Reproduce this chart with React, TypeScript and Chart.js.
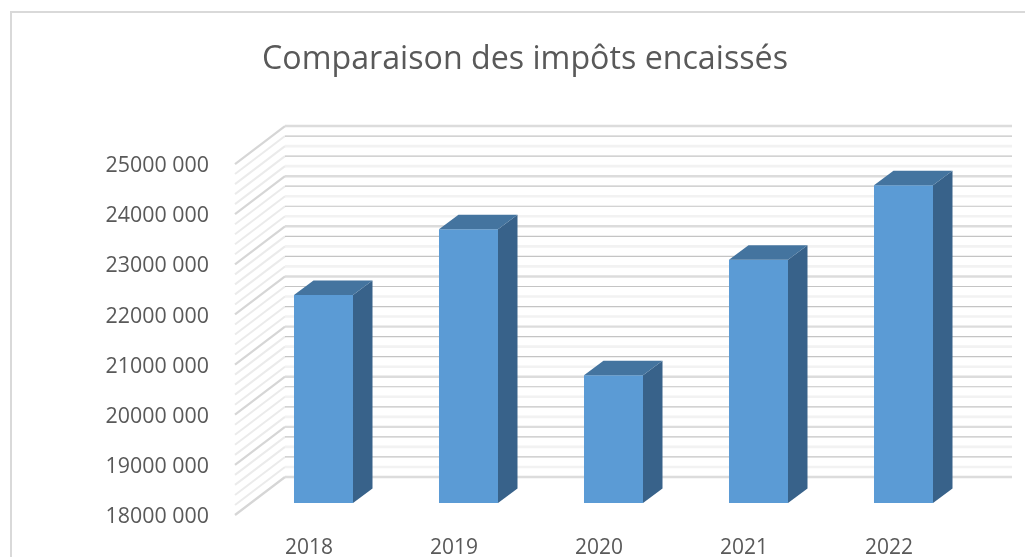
import React, { useEffect, useRef } from "react";
import { Chart, registerables } from "chart.js";

Chart.register(...registerables);

const titleText = "Comparaison des impôts encaissés";
const categories = ["2018", "2019", "2020", "2021", "2022"];
const taxes = [22150000, 23460000, 20550000, 22850000, 24340000];
const yTickLabels = ["18000 000", "19000 000", "20000 000", "21000 000", "22000 000", "23000 000", "24000 000", "25000 000"];

const FRONT = "#5B9BD5";
const TOP = "#44749F";
const SIDE = "#38628A";
const TEXT = "#595959";
const FONT = "'Open Sans', sans-serif";

const wallPlugin = {
  id: "walls",
  beforeDraw(chart: any) {
    const { ctx } = chart;
    ctx.save();
    ctx.strokeStyle = "#D9D9D9";
    ctx.lineWidth = 2;
    ctx.beginPath();
    ctx.moveTo(1025, 12);
    ctx.lineTo(11, 12);
    ctx.lineTo(11, 557);
    ctx.stroke();
    ctx.restore();
  },
  beforeDatasetsDraw(chart: any) {
    const { ctx, chartArea, scales } = chart;
    const y = scales.y;
    const frontX = chartArea.left - 16;
    const frontDy = 12;
    const backX = chartArea.left + 34;
    const backDy = -26;
    const endX = chartArea.right + 36;
    const step = 200000;
    ctx.save();
    for (let i = 0; i <= 35; i++) {
      const py = y.getPixelForValue(y.min + i * step);
      const major = i % 5 === 0;
      const even = i % 5 === 2 || i % 5 === 4;
      // side wall
      ctx.beginPath();
      ctx.strokeStyle = major ? "#D6D6D6" : "#EBEBEB";
      ctx.lineWidth = major ? 2.2 : 2;
      ctx.moveTo(frontX, py + frontDy);
      ctx.lineTo(backX, py + backDy);
      ctx.stroke();
      // back wall
      ctx.beginPath();
      ctx.strokeStyle = major ? "#DCDCDC" : even ? "#C4C4C4" : "#F2F2F2";
      ctx.lineWidth = major ? 2.4 : even ? 1.2 : 2.6;
      ctx.moveTo(backX, py + backDy);
      ctx.lineTo(endX, py + backDy);
      ctx.stroke();
    }
    ctx.restore();
  },
  afterDatasetsDraw(chart: any) {
    const { ctx, scales } = chart;
    const dx = 19.5;
    const dy = -14.5;
    const base = scales.y.getPixelForValue(scales.y.min);
    ctx.save();
    chart.getDatasetMeta(0).data.forEach((bar: any) => {
      const l = bar.x - bar.width / 2;
      const r = bar.x + bar.width / 2;
      ctx.fillStyle = SIDE;
      ctx.beginPath();
      ctx.moveTo(r, bar.y);
      ctx.lineTo(r + dx, bar.y + dy);
      ctx.lineTo(r + dx, base + dy);
      ctx.lineTo(r, base);
      ctx.closePath();
      ctx.fill();
      ctx.fillStyle = TOP;
      ctx.beginPath();
      ctx.moveTo(l, bar.y);
      ctx.lineTo(l + dx, bar.y + dy);
      ctx.lineTo(r + dx, bar.y + dy);
      ctx.lineTo(r, bar.y);
      ctx.closePath();
      ctx.fill();
    });
    ctx.restore();
  },
};

export default function App() {
  const ref = useRef<HTMLCanvasElement>(null);
  useEffect(() => {
    document.body.style.margin = "0";
    const chart = new Chart(ref.current as HTMLCanvasElement, {
      type: "bar",
      data: {
        labels: categories,
        datasets: [
          {
            data: taxes,
            backgroundColor: FRONT,
            borderWidth: 0,
            barPercentage: 0.407,
            categoryPercentage: 1,
          },
        ],
      },
      options: {
        responsive: false,
        animation: false,
        layout: { padding: { left: 74, right: 49, top: 0, bottom: 0 } },
        plugins: {
          legend: { display: false },
          tooltip: { enabled: false },
          title: {
            display: true,
            text: titleText,
            color: TEXT,
            font: { family: FONT, size: 32.2, weight: "normal" },
            padding: { top: 41, bottom: 72.4 },
          },
        },
        scales: {
          x: {
            grid: { display: false },
            border: { display: false },
            ticks: {
              color: TEXT,
              font: { family: FONT, size: 21 },
              padding: 24,
              labelOffset: -14.5,
              maxRotation: 0,
            },
            afterFit: (s: any) => {
              s.height = 54;
            },
          },
          y: {
            min: 18000000,
            max: 25000000,
            grid: { display: false },
            border: { display: false },
            ticks: {
              stepSize: 1000000,
              color: TEXT,
              font: { family: FONT, size: 21.4 },
              padding: 34,
              labelOffset: 14,
              callback: (_v: any, i: number) => yTickLabels[i],
            },
            afterFit: (s: any) => {
              s.width = 177;
            },
          },
        },
      },
      plugins: [wallPlugin],
    } as any);
    return () => chart.destroy();
  }, []);
  return <canvas ref={ref} width={1025} height={557} style={{ display: "block" }} />;
}
